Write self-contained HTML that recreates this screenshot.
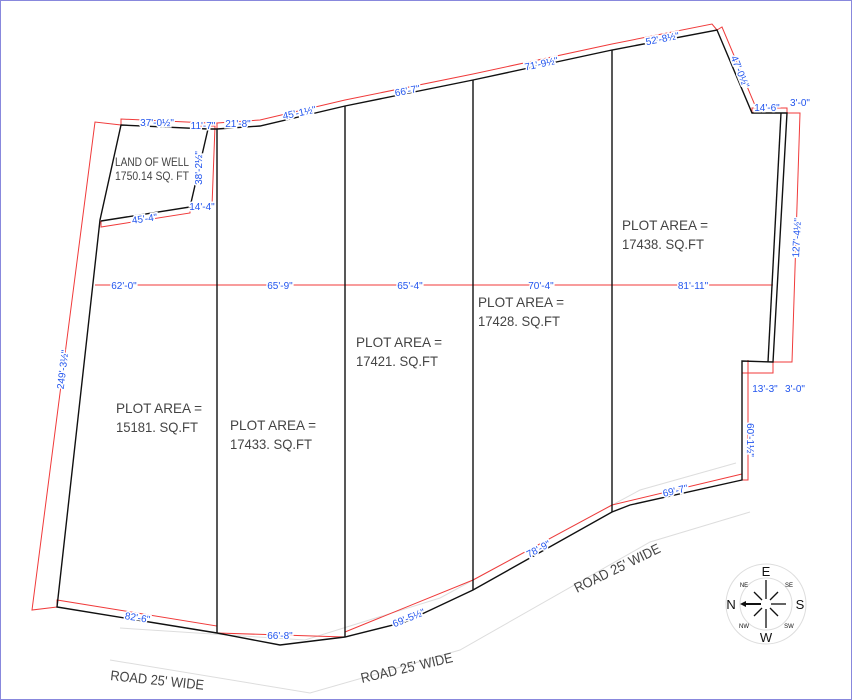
<!DOCTYPE html>
<html><head><meta charset="utf-8"><style>
html,body{margin:0;padding:0;background:#fff}
svg{display:block}
text{font-family:"Liberation Sans",sans-serif}
.d{fill:#2255ee;font-size:10px;stroke:#fff;stroke-width:3px;paint-order:stroke;}
.l{fill:#444;font-size:14px}
</style></head><body>
<svg width="852" height="700" viewBox="0 0 852 700">
<rect x="0.5" y="0.5" width="851" height="699" fill="#fff" stroke="#8888dd"/>
<g stroke="#ddd" fill="none" stroke-width="1">
<polyline points="120,628 305,640 440,598 640,490 736,463"/>
<polyline points="110,660 310,693 460,650 650,542 750,512"/>
</g>
<g stroke="#f03a3a" fill="none" stroke-width="1">
<polyline points="121,125 95,122 32,610 57,607"/>
<polyline points="121,125 121,119 208,123 208,129"/>
<polyline points="208,129 208,123 217,123 217,129"/>
<polyline points="217,123 260,120 345,100 473,74 612,44 712,24 717,30"/>
<polyline points="717,30 722,27 757,110 752,113"/>
<polyline points="752,113 752,108 787,108 787,113"/>
<polyline points="787,113 800,113 792,362 773,362"/>
<polyline points="742,361 742,373 773,373 773,362"/>
<polyline points="742,373 742,480 748,480 748,360"/>
<polyline points="200,126 215,126 212,206 190,207"/>
<polyline points="101,221 101,227 190,213 190,207"/>
<line x1="95" y1="285" x2="773" y2="285"/>
<polyline points="57,607 57,600 217,626 217,633"/>
<polyline points="217,633 345,637"/>
<polyline points="345,637 345,632 473,580 473,585"/>
<polyline points="473,580 612,505 612,512"/>
<polyline points="612,505 742,474"/>
</g>
<g stroke="#111" fill="none" stroke-width="1.4">
<polygon points="121,125 208,129 217,129 260,126 345,106 473,80 612,50 717,30 752,113 787,113 773,362 742,361 742,480 630,505 612,512 473,590 405,622 345,637 280,645 217,633 57,607 100,220"/>
<polyline points="208,129 190,207 101,221"/>
<line x1="781" y1="113" x2="768" y2="362"/>
<line x1="217" y1="129" x2="217" y2="633"/>
<line x1="345" y1="106" x2="345" y2="637"/>
<line x1="473" y1="80" x2="473" y2="590"/>
<line x1="612" y1="50" x2="612" y2="512"/>
</g>
<g class="d" text-anchor="middle">
<text x="157" y="126">37'-0½"</text>
<text x="203" y="129">11'-7"</text>
<text x="238" y="127">21'-8"</text>
<text x="300" y="116" transform="rotate(-12 300 116)">45'-1½"</text>
<text x="408" y="94" transform="rotate(-11 408 94)">66'-7"</text>
<text x="542" y="67" transform="rotate(-12 542 67)">71'-9½"</text>
<text x="663" y="42" transform="rotate(-11 663 42)">52'-8½"</text>
<text x="767" y="111">14'-6"</text>
<text x="800" y="106">3'-0"</text>
<text x="202" y="210">14'-4"</text>
<text x="145" y="222" transform="rotate(-8 145 222)">45'-4"</text>
<text x="124" y="289">62'-0"</text>
<text x="280" y="289">65'-9"</text>
<text x="410" y="289">65'-4"</text>
<text x="541" y="289">70'-4"</text>
<text x="693" y="289">81'-11"</text>
<text x="765" y="392">13'-3"</text>
<text x="795" y="392">3'-0"</text>
<text x="137" y="621" transform="rotate(9 137 621)">82'-6"</text>
<text x="280" y="639">66'-8"</text>
<text x="410" y="621" transform="rotate(-22 410 621)">69'-5½"</text>
<text x="540" y="552" transform="rotate(-28 540 552)">78'-9"</text>
<text x="676" y="494" transform="rotate(-13 676 494)">69'-7"</text>
<text x="0" y="0" transform="translate(202,168) rotate(-90)">38'-2½"</text>
<text x="0" y="0" transform="translate(66,370) rotate(-83)">249'-3½"</text>
<text x="0" y="0" transform="translate(737,73) rotate(68)">47'-0½"</text>
<text x="0" y="0" transform="translate(800,238) rotate(-87)">127'-4½"</text>
<text x="0" y="0" transform="translate(747,440) rotate(90)">60'-1½"</text>
</g>
<g class="l">
<text x="115" y="166" style="font-size:12px" textLength="74" lengthAdjust="spacingAndGlyphs">LAND OF WELL</text>
<text x="115" y="180" style="font-size:12px" textLength="74" lengthAdjust="spacingAndGlyphs">1750.14 SQ. FT</text>
<text x="116" y="413" textLength="86" lengthAdjust="spacingAndGlyphs">PLOT AREA =</text><text x="116" y="432" textLength="82" lengthAdjust="spacingAndGlyphs">15181. SQ.FT</text>
<text x="230" y="430" textLength="86" lengthAdjust="spacingAndGlyphs">PLOT AREA =</text><text x="230" y="449" textLength="82" lengthAdjust="spacingAndGlyphs">17433. SQ.FT</text>
<text x="356" y="347" textLength="86" lengthAdjust="spacingAndGlyphs">PLOT AREA =</text><text x="356" y="366" textLength="82" lengthAdjust="spacingAndGlyphs">17421. SQ.FT</text>
<text x="478" y="307" textLength="86" lengthAdjust="spacingAndGlyphs">PLOT AREA =</text><text x="478" y="326" textLength="82" lengthAdjust="spacingAndGlyphs">17428. SQ.FT</text>
<text x="622" y="230" textLength="86" lengthAdjust="spacingAndGlyphs">PLOT AREA =</text><text x="622" y="249" textLength="82" lengthAdjust="spacingAndGlyphs">17438. SQ.FT</text>
<text x="110" y="680" transform="rotate(6 110 680)" textLength="94" lengthAdjust="spacingAndGlyphs">ROAD 25' WIDE</text>
<text x="362" y="683" transform="rotate(-13 362 683)" textLength="94" lengthAdjust="spacingAndGlyphs">ROAD 25' WIDE</text>
<text x="577" y="593" transform="rotate(-26 577 593)" textLength="94" lengthAdjust="spacingAndGlyphs">ROAD 25' WIDE</text>
</g>
<g transform="translate(766,604)">
<circle r="40" fill="none" stroke="#ddd"/>
<circle r="26" fill="none" stroke="#ddd"/>
<g stroke="#111" stroke-width="1.3">
<line x1="0" y1="-5" x2="0" y2="-24"/><line x1="0" y1="5" x2="0" y2="24"/>
<line x1="5" y1="0" x2="20" y2="0"/><line x1="-5" y1="0" x2="-22" y2="0" stroke-width="2"/>
<line x1="4" y1="-4" x2="12" y2="-12"/><line x1="-4" y1="-4" x2="-12" y2="-12"/>
<line x1="4" y1="4" x2="12" y2="12"/><line x1="-4" y1="4" x2="-12" y2="12"/>
</g>
<polygon points="-26,0 -20,-3 -20,3" fill="#111"/>
<g text-anchor="middle" fill="#111">
<text x="0" y="-28" font-size="13">E</text>
<text x="0" y="38" font-size="13">W</text>
<text x="-35" y="5" font-size="13">N</text>
<text x="34" y="5" font-size="13">S</text>
<text x="-22" y="-17" font-size="6">NE</text>
<text x="23" y="-17" font-size="6">SE</text>
<text x="-22" y="24" font-size="6">NW</text>
<text x="23" y="24" font-size="6">SW</text>
</g>
</g>
</svg>
</body></html>
